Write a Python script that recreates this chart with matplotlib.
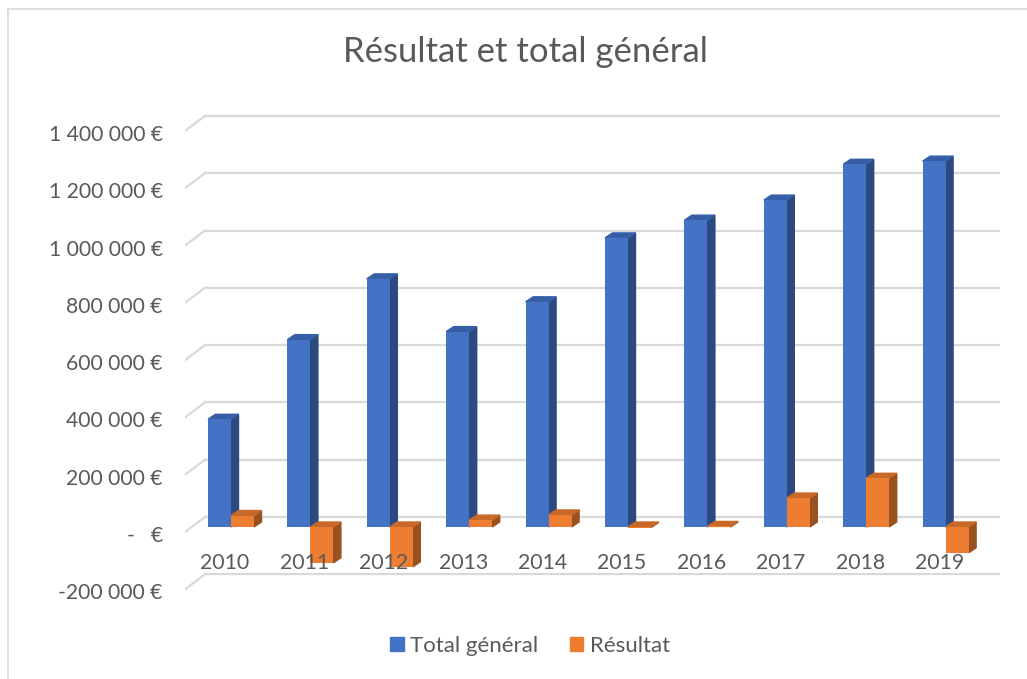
import matplotlib.pyplot as plt
from matplotlib.patches import Polygon
from matplotlib.transforms import ScaledTranslation
from matplotlib.lines import Line2D

# data
years = ["2010", "2011", "2012", "2013", "2014", "2015", "2016", "2017", "2018", "2019"]
total_general = [376000, 654000, 866000, 682000, 786000, 1009000, 1071000, 1141000, 1266000, 1277000]
resultat = [40000, -125000, -139000, 24000, 42000, -2000, 2000, 101000, 170000, -90000]
ytick_values = [-200000, 0, 200000, 400000, 600000, 800000, 1000000, 1200000, 1400000]
ytick_labels = ["-200 000 €", "-   €", "200 000 €", "400 000 €", "600 000 €",
                "800 000 €", "1 000 000 €", "1 200 000 €", "1 400 000 €"]

plt.rcParams['font.family'] = ['Lato', 'DejaVu Sans']
text_grey = "#595959"
blue, blue_side, blue_top = "#4472c4", "#2c4a80", "#3560a8"
orange, orange_side, orange_top = "#ed7d31", "#9a5120", "#c8692a"

W, H = 1027, 679
fig = plt.figure(figsize=(W / 100, H / 100), dpi=100)

# axes = plane of bar fronts, in pixel terms
px_left, px_right, px_top, px_bottom = 185, 1000, 100, 600
ax = fig.add_axes([px_left / W, 1 - px_bottom / H, (px_right - px_left) / W, (px_bottom - px_top) / H])
cat_px = 79.4        # pixels per category
val_px = 57.3 / 200000  # pixels per euro
x0 = (px_left - 231) / cat_px
x1 = (px_right - 231) / cat_px
y_bot = -(px_bottom - 527) / val_px
y_top = (527 - px_top) / val_px
ax.set_xlim(x0, x1)
ax.set_ylim(y_bot, y_top)
for s in ax.spines.values():
    s.set_visible(False)
ax.set_xticks([])

def px_x(p):
    return p / cat_px

def px_y(p):
    return p / val_px

# back wall gridlines + diagonal floor edge
grid_c = "#d9d9d9"
for v in ytick_values:
    yb = v + px_y(10)
    yf = v - px_y(5)
    ax.plot([x0 + px_x(20), x1], [yb, yb], color=grid_c, lw=1.6, zorder=0)
    ax.plot([x0, x0 + px_x(20)], [yf, yb], color=grid_c, lw=1.6, zorder=0)

bw = px_x(23)
dx, dy = px_x(7.5), px_y(5)
xs = list(range(len(years)))

def bar3d(xl, h, face, side, top):
    ax.bar(xl, h, width=bw, align='edge', color=face, zorder=3)
    hi = max(h, 0)
    lo = min(h, 0)
    ax.add_patch(Polygon([(xl + bw, lo), (xl + bw + dx, lo + dy), (xl + bw + dx, hi + dy), (xl + bw, hi)],
                         closed=True, color=side, zorder=2))
    ax.add_patch(Polygon([(xl, hi), (xl + dx, hi + dy), (xl + bw + dx, hi + dy), (xl + bw, hi)],
                         closed=True, color=top, zorder=2))

for i in xs:
    bar3d(i - bw, total_general[i], blue, blue_side, blue_top)
for i in xs:
    bar3d(i, resultat[i], orange, orange_side, orange_top)

# category labels sitting on the floor
for i in xs:
    ax.text(i - px_x(6), -px_y(36), years[i], ha='center', va='center',
            fontsize=15.3, color=text_grey, zorder=5)

ax.set_yticks(ytick_values)
ax.set_yticklabels(ytick_labels)
ax.tick_params(axis='y', length=0, pad=16, labelsize=15.2, labelcolor=text_grey)
shift = ScaledTranslation(0, -7 / 100, fig.dpi_scale_trans)
for lab in ax.get_yticklabels():
    lab.set_transform(lab.get_transform() + shift)

fig.text(525 / W, 1 - 52 / H, "Résultat et total général", ha='center', va='center',
         fontsize=25, color=text_grey)

handles = [plt.Rectangle((0, 0), 1, 1, color=blue), plt.Rectangle((0, 0), 1, 1, color=orange)]
fig.legend(handles, ["Total général", "Résultat"], loc='center', bbox_to_anchor=(530 / W, 1 - 646 / H),
           ncol=2, frameon=False, fontsize=16, labelcolor=text_grey, handlelength=0.6,
           handleheight=0.6, handletextpad=0.3, columnspacing=1.4)

# chart area border (left and top visible)
fig.add_artist(Line2D([8 / W, 8 / W], [0, 1 - 9 / H], color="#d9d9d9", lw=1.2))
fig.add_artist(Line2D([8 / W, 1], [1 - 9 / H, 1 - 9 / H], color="#d9d9d9", lw=1.2))

fig.savefig("out.png", dpi=100)
